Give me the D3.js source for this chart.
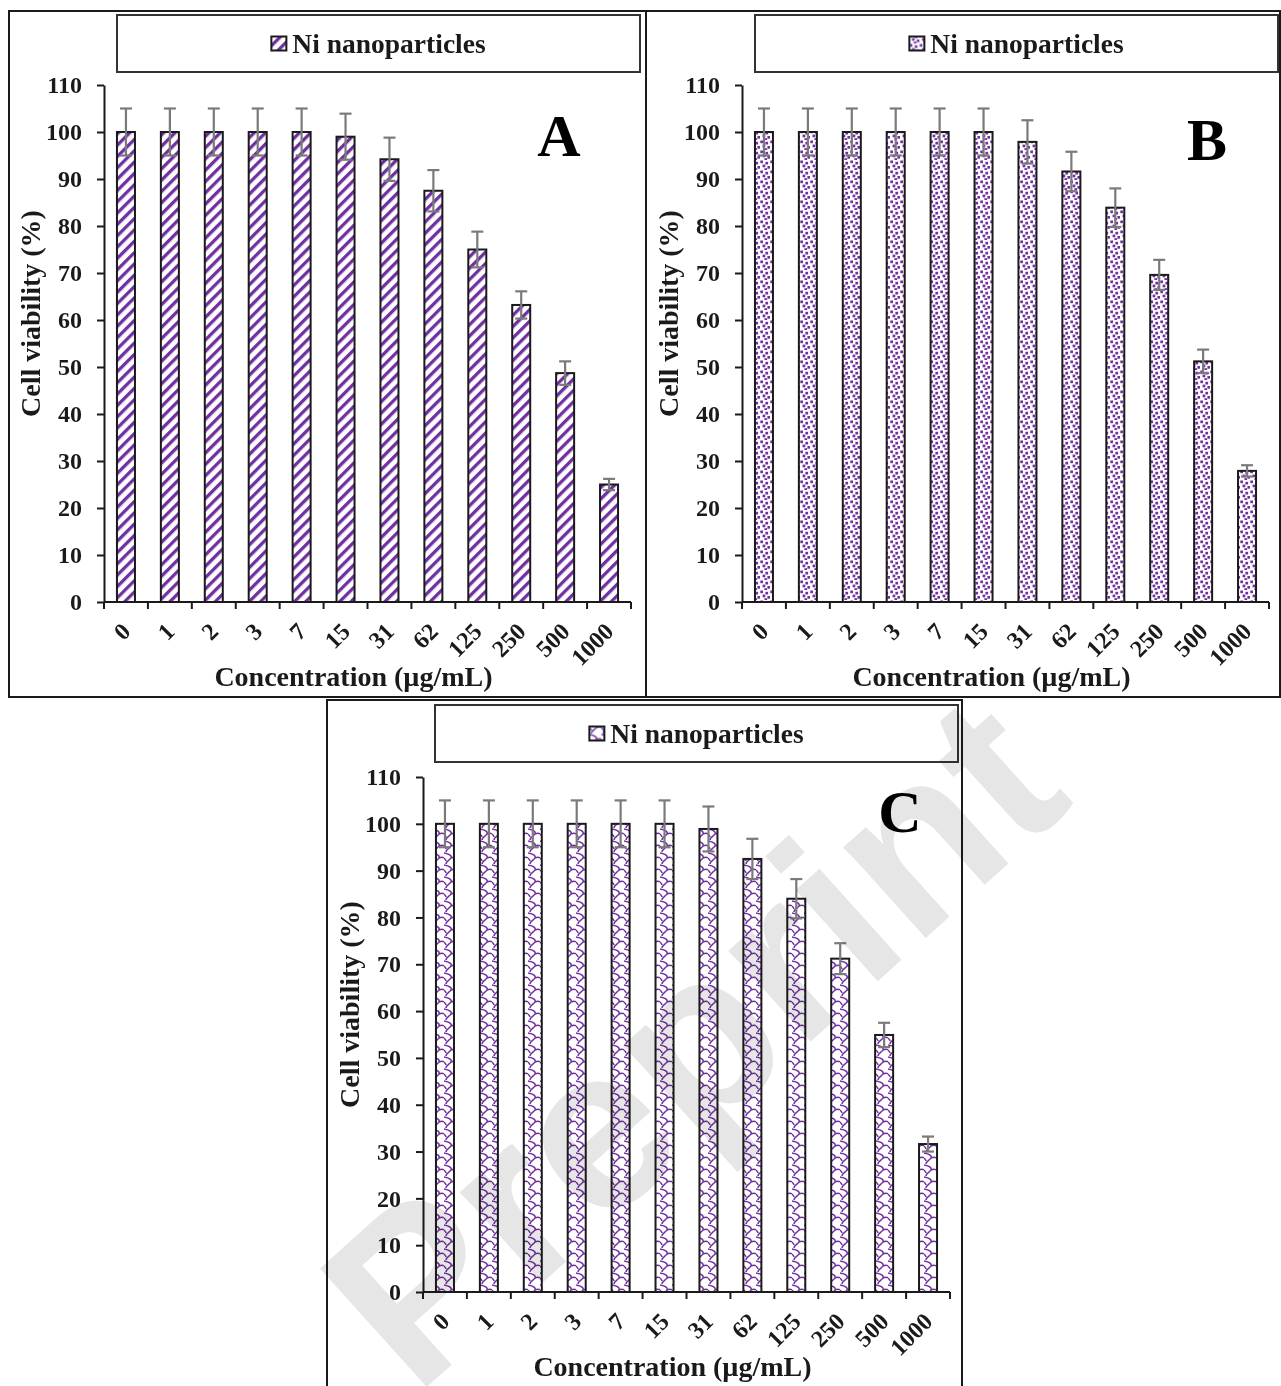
<!DOCTYPE html>
<html><head><meta charset="utf-8">
<script src="https://cdn.jsdelivr.net/npm/d3@7"></script>
<style>body{margin:0;background:#fff}svg{display:block}</style>
</head><body>
<script>
// ---------- DATA ----------
const concentrations = ["0","1","2","3","7","15","31","62","125","250","500","1000"];
const viabilityA = [100,100,100,100,100,99,94.2,87.5,75,63.2,48.7,25];
const errorA     = [5,5,5,5,5,4.9,4.6,4.4,3.8,2.9,2.5,1.2];
const viabilityB = [100,100,100,100,100,100,97.9,91.6,83.9,69.6,51.2,27.9];
const errorB     = [5,5,5,5,5,5,4.6,4.2,4.1,3.2,2.5,1.2];
const viabilityC = [100,100,100,100,100,100,98.9,92.5,84,71.2,54.9,31.6];
const errorC     = [5,5,5,5,5,5,4.8,4.3,4.2,3.3,2.6,1.6];
const yTicks = [0,10,20,30,40,50,60,70,80,90,100,110];
const seriesName = "Ni nanoparticles";
const yTitle = "Cell viability (%)";
const xTitle = "Concentration (µg/mL)";
const panelLetters = ["A","B","C"];
const watermark = "Preprint";

// ---------- SETUP ----------
const W = 1281, H = 1386;
const FONT = "'Liberation Serif','Times New Roman',serif";
const purple = "#7030A0";
const ink = "#1a1a1a";
const svg = d3.select("body").append("svg").attr("width", W).attr("height", H);
const defs = svg.append("defs");

// pattern A: wide upward diagonal
const pA = defs.append("pattern").attr("id","patA").attr("patternUnits","userSpaceOnUse")
  .attr("width",8).attr("height",8).attr("patternTransform","rotate(45)");
pA.append("rect").attr("width",8).attr("height",8).attr("fill","#fff");
pA.append("rect").attr("width",3.3).attr("height",8).attr("fill",purple);

// pattern B: dotted confetti
const pB = defs.append("pattern").attr("id","patB").attr("patternUnits","userSpaceOnUse")
  .attr("width",10).attr("height",10);
pB.append("rect").attr("width",10).attr("height",10).attr("fill","#fff");
[[0.3,0.5],[5.4,1.8],[2.6,4.6],[7.4,6.0],[4.4,8.2]].forEach(([a,b]) =>
  pB.append("rect").attr("x",a).attr("y",b).attr("width",2.7).attr("height",2.7).attr("fill",purple));

// pattern C: shingle
const pC = defs.append("pattern").attr("id","patC").attr("patternUnits","userSpaceOnUse")
  .attr("width",12).attr("height",12);
pC.append("rect").attr("width",12).attr("height",12).attr("fill","#fff");
pC.append("path").attr("d","M0,1 C6,2 8,4 7,6 C6,8 2,9 2,12 M7,6 C9,5 11,5 12,6 M0,6 C1,7 2,8 2,9")
  .attr("fill","none").attr("stroke",purple).attr("stroke-width",1.5);

const panels = [
  {frame:[9,11,637,686], x0:104, x1:631, yT:85, yB:602, legend:[117,15,523,57], letterPos:[559,156],
   values:viabilityA, errors:errorA, pat:"patA"},
  {frame:[646,11,634,686], x0:742, x1:1269, yT:85, yB:602, legend:[755,15,523,57], letterPos:[1207,160],
   values:viabilityB, errors:errorB, pat:"patB"},
  {frame:[327,700,635,720], x0:423, x1:950, yT:777, yB:1292, legend:[435,705,523,57], letterPos:[900,832],
   values:viabilityC, errors:errorC, pat:"patC"}
];

panels.forEach((p, pi) => {
  const g = svg.append("g");
  g.append("rect").attr("x",p.frame[0]).attr("y",p.frame[1]).attr("width",p.frame[2]).attr("height",p.frame[3])
    .attr("fill","#fff").attr("stroke",ink).attr("stroke-width",2);

  // legend
  const lg = g.append("g");
  lg.append("rect").attr("x",p.legend[0]).attr("y",p.legend[1]).attr("width",p.legend[2]).attr("height",p.legend[3])
    .attr("fill","#fff").attr("stroke","#333").attr("stroke-width",2);
  const inner = lg.append("g");
  inner.append("rect").attr("x",0).attr("y",-7).attr("width",15).attr("height",14)
    .attr("fill",`url(#${p.pat})`).attr("stroke",ink).attr("stroke-width",2);
  const lt = inner.append("text").attr("x",21).attr("y",0).attr("dy","0.33em")
    .attr("font-family",FONT).attr("font-weight","bold").attr("font-size",27.5).attr("fill",ink).text(seriesName);
  const tw = 21 + lt.node().getComputedTextLength();
  inner.attr("transform",`translate(${p.legend[0]+p.legend[2]/2 - tw/2},${p.legend[1]+p.legend[3]/2})`);

  const x = d3.scaleBand().domain(concentrations).range([p.x0,p.x1]).paddingInner(0.59).paddingOuter(0.295);
  const y = d3.scaleLinear().domain([0,110]).range([p.yB,p.yT]);

  // y axis
  const ya = g.append("g").attr("transform",`translate(${p.x0},0)`)
    .call(d3.axisLeft(y).tickValues(yTicks).tickSize(7).tickSizeOuter(0).tickPadding(15));
  ya.select(".domain").attr("stroke",ink).attr("stroke-width",2);
  ya.selectAll(".tick line").attr("stroke",ink).attr("stroke-width",2);
  ya.selectAll(".tick text").attr("font-family",FONT).attr("font-weight","bold").attr("font-size",24).attr("fill",ink);

  // bars
  g.selectAll(".bar").data(p.values).join("rect")
    .attr("x",(d,i)=>x(concentrations[i])).attr("width",x.bandwidth())
    .attr("y",d=>y(d)).attr("height",d=>y(0)-y(d))
    .attr("fill",`url(#${p.pat})`).attr("stroke",ink).attr("stroke-width",2);

  // error bars
  const eg = g.append("g").attr("stroke","#7a7a7a").attr("stroke-width",2.2).attr("fill","none");
  p.values.forEach((v,i)=>{
    const cx = x(concentrations[i]) + x.bandwidth()/2;
    const e = p.errors[i];
    eg.append("line").attr("x1",cx).attr("x2",cx).attr("y1",y(v-e)).attr("y2",y(v+e));
    eg.append("line").attr("x1",cx-6).attr("x2",cx+6).attr("y1",y(v+e)).attr("y2",y(v+e));
    eg.append("line").attr("x1",cx-6).attr("x2",cx+6).attr("y1",y(v-e)).attr("y2",y(v-e));
  });

  // x axis (ticks at category boundaries)
  const xg = g.append("g");
  xg.append("line").attr("x1",p.x0).attr("x2",p.x1).attr("y1",p.yB).attr("y2",p.yB).attr("stroke",ink).attr("stroke-width",2);
  const bounds = concentrations.map(c => x(c) + x.bandwidth()/2 - x.step()/2).concat([p.x1]);
  xg.selectAll(".xt").data(bounds).join("line")
    .attr("x1",d=>d).attr("x2",d=>d).attr("y1",p.yB).attr("y2",p.yB+7).attr("stroke",ink).attr("stroke-width",2);
  xg.selectAll(".xl").data(concentrations).join("text")
    .attr("text-anchor","end")
    .attr("transform",d=>`translate(${x(d)+x.bandwidth()/2+6},${p.yB+31}) rotate(-45)`)
    .attr("font-family",FONT).attr("font-weight","bold").attr("font-size",24).attr("fill",ink).text(d=>d);

  // titles
  g.append("text").attr("text-anchor","middle")
    .attr("transform",`translate(${p.x0-64},${(p.yT+p.yB)/2-30}) rotate(-90)`)
    .attr("font-family",FONT).attr("font-weight","bold").attr("font-size",28).attr("fill",ink).text(yTitle);
  g.append("text").attr("text-anchor","middle").attr("x",(p.x0+p.x1)/2-14).attr("y",p.yB+84)
    .attr("font-family",FONT).attr("font-weight","bold").attr("font-size",28).attr("fill",ink).text(xTitle);

  // panel letter
  g.append("text").attr("text-anchor","middle").attr("x",p.letterPos[0]).attr("y",p.letterPos[1])
    .attr("font-family",FONT).attr("font-weight","bold").attr("font-size",60).attr("fill","#000").text(panelLetters[pi]);
});

// watermark
svg.append("text").attr("text-anchor","middle").attr("dominant-baseline","central")
  .attr("transform","translate(692,1040) rotate(-42)")
  .attr("font-family","'Liberation Sans',Arial,sans-serif").attr("font-weight","bold").attr("font-size",232)
  .attr("fill","#e6e6e6").style("mix-blend-mode","multiply").text(watermark);
</script>
</body></html>
